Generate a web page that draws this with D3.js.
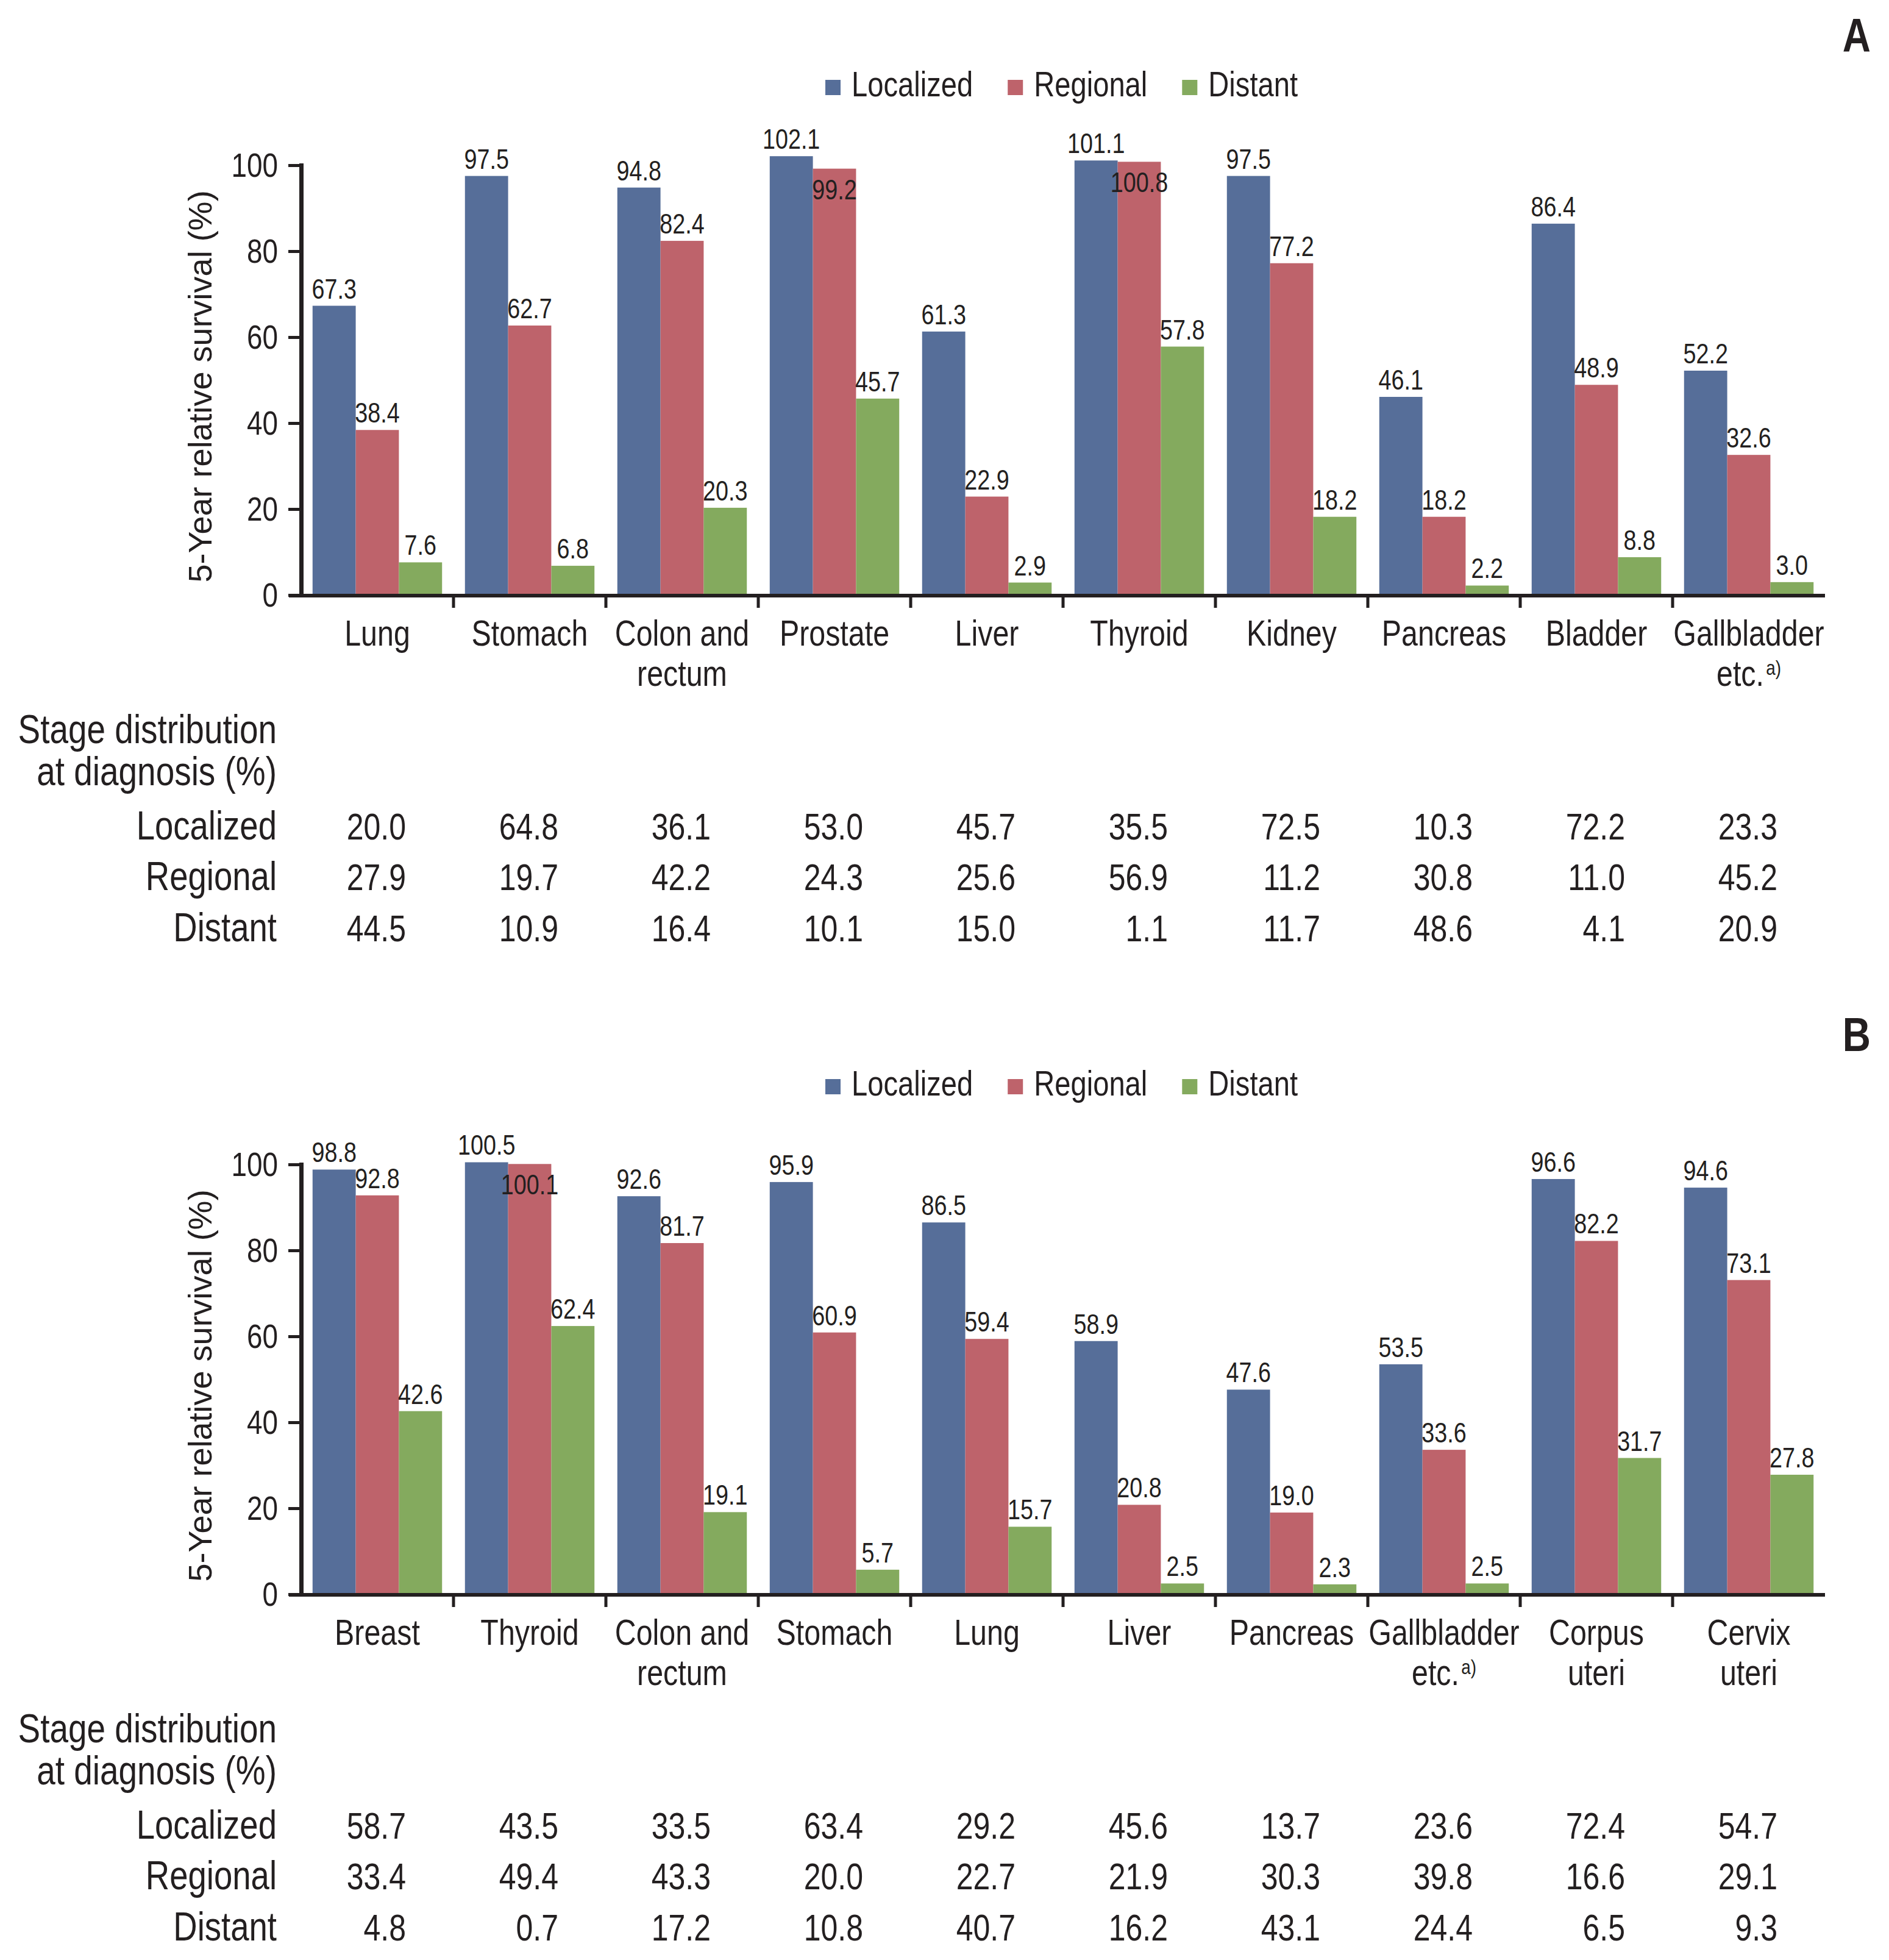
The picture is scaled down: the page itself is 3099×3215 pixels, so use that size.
<!DOCTYPE html>
<html><head><meta charset="utf-8">
<script src="https://cdn.jsdelivr.net/npm/d3@7"></script>
<style>body{margin:0;background:#fff}</style>
</head><body>
<svg id="chart" width="3099" height="3215" xmlns="http://www.w3.org/2000/svg"></svg>
<script>
// ---------- data ----------
const seriesNames = ["Localized", "Regional", "Distant"];
const seriesColors = ["#566E99", "#BE636B", "#84AA5E"];
const yTicks = [0, 20, 40, 60, 80, 100];
const stageTitle = ["Stage distribution", "at diagnosis (%)"];

// Panel A
const categoriesA = ["Lung", "Stomach", "Colon and\nrectum", "Prostate", "Liver", "Thyroid", "Kidney", "Pancreas", "Bladder", "Gallbladder\netc.^a)"];
const localizedA = [67.3, 97.5, 94.8, 102.1, 61.3, 101.1, 97.5, 46.1, 86.4, 52.2];
const regionalA  = [38.4, 62.7, 82.4, 99.2, 22.9, 100.8, 77.2, 18.2, 48.9, 32.6];
const distantA   = [7.6, 6.8, 20.3, 45.7, 2.9, 57.8, 18.2, 2.2, 8.8, 3.0];
const stageLocalizedA = [20.0, 64.8, 36.1, 53.0, 45.7, 35.5, 72.5, 10.3, 72.2, 23.3];
const stageRegionalA  = [27.9, 19.7, 42.2, 24.3, 25.6, 56.9, 11.2, 30.8, 11.0, 45.2];
const stageDistantA   = [44.5, 10.9, 16.4, 10.1, 15.0, 1.1, 11.7, 48.6, 4.1, 20.9];

// Panel B
const categoriesB = ["Breast", "Thyroid", "Colon and\nrectum", "Stomach", "Lung", "Liver", "Pancreas", "Gallbladder\netc.^a)", "Corpus\nuteri", "Cervix\nuteri"];
const localizedB = [98.8, 100.5, 92.6, 95.9, 86.5, 58.9, 47.6, 53.5, 96.6, 94.6];
const regionalB  = [92.8, 100.1, 81.7, 60.9, 59.4, 20.8, 19.0, 33.6, 82.2, 73.1];
const distantB   = [42.6, 62.4, 19.1, 5.7, 15.7, 2.5, 2.3, 2.5, 31.7, 27.8];
const stageLocalizedB = [58.7, 43.5, 33.5, 63.4, 29.2, 45.6, 13.7, 23.6, 72.4, 54.7];
const stageRegionalB  = [33.4, 49.4, 43.3, 20.0, 22.7, 21.9, 30.3, 39.8, 16.6, 29.1];
const stageDistantB   = [4.8, 0.7, 17.2, 10.8, 40.7, 16.2, 43.1, 24.4, 6.5, 9.3];

// ---------- setup ----------
const INK = "#231f20";
const svg = d3.select("#chart");

function hasFont(name) {
  const c = document.createElement("canvas").getContext("2d");
  c.font = "48px serif"; const a = c.measureText("Stomach 0123").width;
  c.font = "48px '" + name + "', serif"; const b = c.measureText("Stomach 0123").width;
  c.font = "48px monospace"; const a2 = c.measureText("Stomach 0123").width;
  c.font = "48px '" + name + "', monospace"; const b2 = c.measureText("Stomach 0123").width;
  return Math.abs(a - b) > 0.5 || Math.abs(a2 - b2) > 0.5;
}
const NARROW = hasFont("Liberation Sans Narrow");
const SX = 0.82;

// narrow text helper
function ntext(g, x, y, str, size, anchor, weight) {
  const t = g.append("text")
    .attr("font-size", size)
    .attr("text-anchor", anchor || "middle")
    .attr("fill", INK);
  if (NARROW) {
    t.attr("x", x).attr("y", y).attr("font-family", "'Liberation Sans Narrow'");
  } else {
    t.attr("x", x / SX).attr("y", y).attr("transform", `scale(${SX},1)`)
     .attr("font-family", "'Liberation Sans', Arial, sans-serif");
  }
  if (weight) t.attr("font-weight", weight);
  if (str !== null) t.text(str);
  return t;
}

const fmt = d3.format(".1f");

function drawPanel(oy, letter, categories, survival, stage) {
  const g = svg.append("g").attr("transform", `translate(0,${oy})`);

  const x = d3.scaleBand().domain(categories).range([494, 2994]).padding(0);
  const xs = d3.scaleBand().domain(seriesNames).range([0, x.bandwidth()])
    .paddingInner(0).paddingOuter(0.265);
  const y = d3.scaleLinear().domain([0, 100]).range([976, 271]);

  // bars
  seriesNames.forEach((s, si) => {
    g.append("g").selectAll("rect")
      .data(categories.map((c, i) => ({ c, v: survival[si][i] })))
      .join("rect")
      .attr("x", d => x(d.c) + xs(s))
      .attr("y", d => y(d.v))
      .attr("width", xs.bandwidth())
      .attr("height", d => y(0) - y(d.v))
      .attr("fill", seriesColors[si]);
  });

  // value labels
  seriesNames.forEach((s, si) => {
    categories.forEach((c, i) => {
      const v = survival[si][i];
      const prev = si > 0 ? survival[si - 1][i] : null;
      const inside = prev !== null && prev - v >= 0 && prev - v < 5;
      const ty = inside ? y(v) + 50 : y(v) - 12;
      ntext(g, x(c) + xs(s) + xs.bandwidth() / 2, ty, fmt(v), 46, "middle");
    });
  });

  // y axis
  const yAxis = d3.axisLeft(y).tickValues(yTicks).tickSizeInner(21).tickSizeOuter(0).tickFormat("");
  const ya = g.append("g").attr("transform", "translate(494,0)").call(yAxis);
  ya.select(".domain").attr("stroke", INK).attr("stroke-width", 7).attr("stroke-linecap", "square");
  ya.selectAll(".tick line").attr("stroke", INK).attr("stroke-width", 5);
  yTicks.forEach(t => {
    ntext(g, 456, y(t), String(t), 56, "end").attr("dominant-baseline", "central");
  });

  // x axis
  g.append("line").attr("x1", 474).attr("x2", 2994).attr("y1", y(0) + 1).attr("y2", y(0) + 1)
    .attr("stroke", INK).attr("stroke-width", 6);
  categories.slice(1).forEach(c => {
    g.append("line").attr("x1", x(c)).attr("x2", x(c)).attr("y1", y(0)).attr("y2", y(0) + 21)
      .attr("stroke", INK).attr("stroke-width", 5);
  });

  // category labels
  categories.forEach(c => {
    const cx = x(c) + x.bandwidth() / 2;
    c.split("\n").forEach((line, li) => {
      const by = 1059 + li * 66;
      if (line.includes("^")) {
        const [main, sup] = line.split("^");
        const t = ntext(g, cx, by, null, 59, "middle");
        t.append("tspan").text(main);
        t.append("tspan").attr("font-size", 34).attr("dy", -18).attr("dx", 4).text(sup);
      } else {
        ntext(g, cx, by, line, 59, "middle");
      }
    });
  });

  // y axis title
  g.append("text")
    .attr("transform", "translate(347,634) rotate(-90)")
    .attr("text-anchor", "middle")
    .attr("font-family", "'Liberation Sans', Arial, sans-serif")
    .attr("font-size", 54)
    .attr("fill", INK)
    .text("5-Year relative survival (%)");

  // legend
  let lx = 1354;
  seriesNames.forEach((s, si) => {
    g.append("rect").attr("x", lx).attr("y", 131).attr("width", 25).attr("height", 25)
      .attr("fill", seriesColors[si]);
    const t = ntext(g, lx + 43, 158, s, 57.5, "start");
    const w = t.node().getBBox().width * (NARROW ? 1 : SX);
    lx = lx + 43 + w + 57;
  });

  // panel letter
  ntext(g, 3069, 85, letter, 78, "end", "bold");

  // stage distribution table
  ntext(g, 454, 1219, stageTitle[0], 67, "end");
  ntext(g, 454, 1288, stageTitle[1], 67, "end");
  const rowY = [1377, 1460, 1544];
  seriesNames.forEach((s, si) => {
    ntext(g, 454, rowY[si], s, 66.5, "end");
    categories.forEach((c, i) => {
      ntext(g, x(c) + x.bandwidth() / 2 + 47, rowY[si], fmt(stage[si][i]), 61, "end");
    });
  });
}

drawPanel(0, "A", categoriesA, [localizedA, regionalA, distantA],
  [stageLocalizedA, stageRegionalA, stageDistantA]);
drawPanel(1639, "B", categoriesB, [localizedB, regionalB, distantB],
  [stageLocalizedB, stageRegionalB, stageDistantB]);
</script>
</body></html>
